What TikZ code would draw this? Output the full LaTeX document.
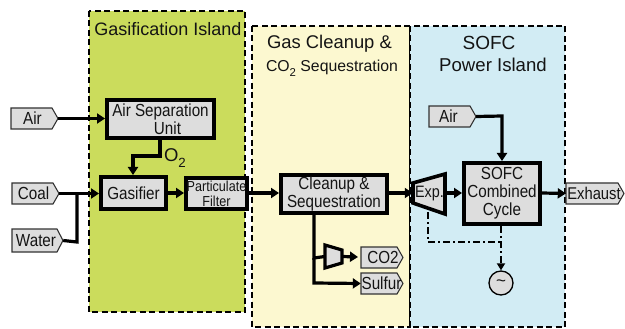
\documentclass[tikz,border=0pt]{standalone}
\usepackage{fontspec}
\setmainfont{Liberation Sans}
\newfontfamily\condf[FakeStretch=0.87]{Liberation Sans}
\usetikzlibrary{arrows.meta,positioning,calc}
\definecolor{gfill}{HTML}{CBDC5C}
\definecolor{yfill}{HTML}{FCF8D0}
\definecolor{bfill}{HTML}{D2ECF4}
\definecolor{bfillb}{HTML}{DDDDDD}
\definecolor{ink}{HTML}{141414}
\newcommand{\subtwo}{\raisebox{-0.3em}{\scalebox{0.72}{2}}}
\tikzset{
 x=1pt,y=-1pt,
 island/.style={draw=black,line width=2.6pt,dash pattern=on 6pt off 3.5pt},
 block/.style={draw=black,fill=bfillb,line width=3.8pt,inner sep=0pt,align=center,text=ink},
 flow/.style={draw=black,line width=3.2pt,-{Triangle[length=8pt,width=10pt]}},
 plainflow/.style={draw=black,line width=3.2pt},
 ctrl/.style={draw=black,line width=2.2pt,dash pattern=on 7pt off 3pt on 2pt off 3pt},
 tagshape/.style={draw=black!80,fill=bfillb,line width=1.1pt},
 lbl/.style={inner sep=0pt,text=ink,align=center},
}
\newcommand{\blockat}[8]{\node[block,minimum width=#4-#2-3.8pt,minimum height=#5-#3-3.8pt,font=\condf\fontsize{#7}{#8}\selectfont] (#1) at ({(#2+#4)/2},{(#3+#5)/2}) {#6};}
\newcommand{\tagat}[7]{%
 \draw[tagshape] (#2,#3) -- (#4-6,#3) -- (#4,{(#3+#5)/2}) -- (#4-6,#5) -- (#2,#5) -- cycle;
 \node[lbl,minimum width=#4-#2,minimum height=#5-#3,font=\condf\fontsize{#7}{#7}\selectfont] (#1) at ({(#2+#4)/2},{(#3+#5)/2}) {#6};}
\begin{document}
\begin{tikzpicture}
\useasboundingbox (0,0) rectangle (625,329);
\draw[island,fill=gfill] (89,11) rectangle (245,312);
\draw[island,fill=yfill] (252,26) rectangle (410,327);
\draw[island,fill=bfill] (410,26) rectangle (565,327);
\node[lbl,font=\fontsize{18}{18}\selectfont] (t1) at (168,29) {Gasification Island};
\node[lbl,font=\fontsize{18.4}{18.4}\selectfont] (t2) at (329.5,44) {Gas Cleanup \&};
\node[lbl,font=\fontsize{15.8}{15.8}\selectfont] (t3) at (332,68) {CO\subtwo{} Sequestration};
\node[lbl,font=\fontsize{19}{19}\selectfont] (t4) at (489,43) {SOFC};
\node[lbl,font=\fontsize{18.6}{18.6}\selectfont] (t5) at (493,65) {Power Island};
\tagat{airA}{11}{108}{58}{129}{\hspace{-4pt}Air}{17.5}
\tagat{coal}{12}{183}{59}{204}{\hspace{-4pt}Coal}{17.5}
\tagat{water}{12}{229}{63}{252}{\hspace{-3pt}Water}{17.5}
\tagat{airB}{429}{106}{476}{127}{\hspace{-8pt}Air}{17.5}
\tagat{exh}{566}{183}{624}{204}{\hspace{-2pt}Exhaust}{17}
\tagat{coo}{361}{247}{403}{268}{\hspace{2pt}CO2}{17.5}
\tagat{sul}{361}{273}{403}{294}{\hspace{-1pt}Sulfur}{17.5}
\blockat{asu}{105}{98}{216}{140}{Air Separation\\\hspace{14pt}Unit}{17.5}{18}
\blockat{gas}{99}{175}{168}{211}{Gasifier}{17.5}{18}
\blockat{fil}{184}{176}{249}{211}{Particulate\\Filter}{14.5}{15}
\blockat{cln}{279}{173}{389}{215}{Cleanup \&\\Sequestration}{17.5}{18}
\blockat{sofc}{462}{161}{542}{226}{SOFC\\Combined\\Cycle}{17.5}{18}
% expander
\draw[draw=black,fill=bfillb,line width=3.6pt,line join=miter] (413,183) -- (445,174) -- (445,214) -- (413,203) -- cycle;
\node[lbl,minimum width=33pt,minimum height=30pt,font=\condf\fontsize{16.5}{16.5}\selectfont] (exp) at (429.5,194) {Exp.};
% compressor
\draw[draw=black,fill=bfillb,line width=3.2pt] (325,245) -- (342,250) -- (342,263) -- (325,268) -- cycle;
\node[inner sep=0pt,minimum width=17pt,minimum height=25pt] (cmp) at (333.5,256.5) {};
% generator
\node[circle,draw=black,fill=bfillb,line width=1.3pt,minimum size=24pt,inner sep=0pt,font=\fontsize{17}{17}\selectfont,text=ink] (gen) at (501,283) {\textasciitilde};
\node[lbl,font=\fontsize{18.5}{18.5}\selectfont] (o2) at (175,158) {O\subtwo};
% connectors
\draw[flow] (airA.east) -- (asu.west |- airA.east);
\draw[flow] (coal.east) -- (gas.west |- coal.east);
\draw[plainflow] (water.east) -- (77,242) -- (77,193);
\draw[flow] (asu.south -| 160,140) -- (160,156) -- (133,156) -- (gas.north -| 133,175);
\draw[flow] (gas.east |- 0,193) -- (fil.west |- 0,193);
\draw[flow] (fil.east |- 0,193) -- (cln.west |- 0,193);
\draw[flow] (cln.east |- 0,193) -- (exp.west |- 0,193);
\draw[flow] (exp.east |- 0,193) -- (sofc.west |- 0,193);
\draw[flow] (sofc.east |- 0,193) -- (exh.west);
\draw[flow] (airB.east) -- (502,116) -- (sofc.north -| 502,161);
\draw[plainflow] (314,215) -- (314,258) -- (cmp.west);
\draw[flow] (cmp.east) -- (358,257);
\draw[flow] (314,258) -- (314,283) -- (sul.west);
\draw[ctrl] (428,212) -- (428,242) -- (501,242);
\draw[ctrl,-{Triangle[length=7pt,width=8pt]}] (sofc.south -| 501,226) -- (gen.north);
\end{tikzpicture}
\end{document}
